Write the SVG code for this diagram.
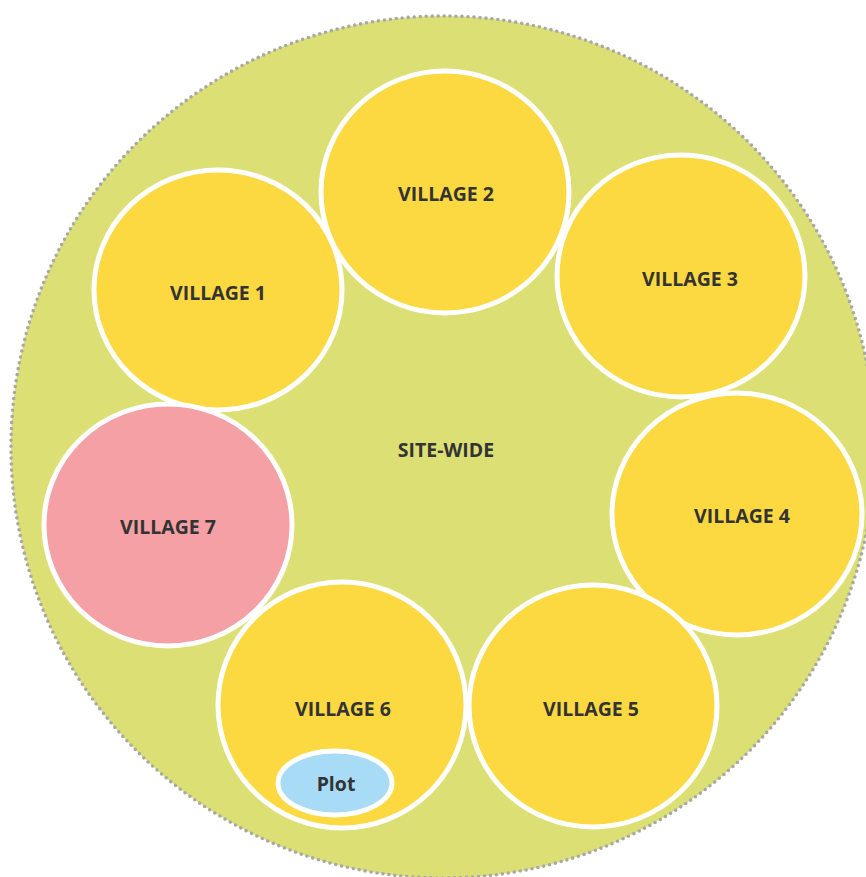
<svg xmlns="http://www.w3.org/2000/svg" width="866" height="877" viewBox="0 0 866 877">
<style>
.lbl{font-family:"Open Sans","Noto Sans","Liberation Sans",sans-serif;font-weight:bold;font-size:19.5px;fill:#333;text-anchor:middle;dominant-baseline:central}
.vy{fill:#fdd941;stroke:#fff;stroke-width:5}
.vp{fill:#f4a0a4;stroke:#fff;stroke-width:5}
.plot{fill:#a8dcf6;stroke:#fff;stroke-width:5}
</style>
<rect width="866" height="877" fill="#fff"/>
<g id="site-wide">
<ellipse cx="443" cy="447" rx="432" ry="431" fill="#dce074" stroke="#a8a8a8" stroke-width="3.6" stroke-dasharray="0 6" stroke-linecap="round"/>
<text class="lbl" x="446" y="449">SITE-WIDE</text>
</g>
<g id="connectors"></g>
<g id="village2"><ellipse class="vy" cx="445" cy="192" rx="124" ry="121"/><text class="lbl" x="446" y="193">VILLAGE 2</text></g>
<g id="village3"><ellipse class="vy" cx="681" cy="276" rx="124" ry="121"/><text class="lbl" x="690" y="278">VILLAGE 3</text></g>
<g id="village4"><ellipse class="vy" cx="737" cy="514" rx="125" ry="121"/><text class="lbl" x="742" y="515">VILLAGE 4</text></g>
<g id="village5"><ellipse class="vy" cx="593" cy="706" rx="124" ry="121"/><text class="lbl" x="591" y="708">VILLAGE 5</text></g>
<g id="village1"><ellipse class="vy" cx="218" cy="290" rx="124" ry="120"/><text class="lbl" x="218" y="292">VILLAGE 1</text></g>
<g id="village7"><ellipse class="vp" cx="168" cy="525" rx="124" ry="121"/><text class="lbl" x="168" y="526">VILLAGE 7</text></g>
<g id="village6"><ellipse class="vy" cx="342" cy="705" rx="124" ry="123"/><text class="lbl" x="343" y="708">VILLAGE 6</text></g>
<g id="plot"><ellipse class="plot" cx="335" cy="783" rx="57" ry="32"/><text class="lbl" x="336" y="783">Plot</text></g>
</svg>
